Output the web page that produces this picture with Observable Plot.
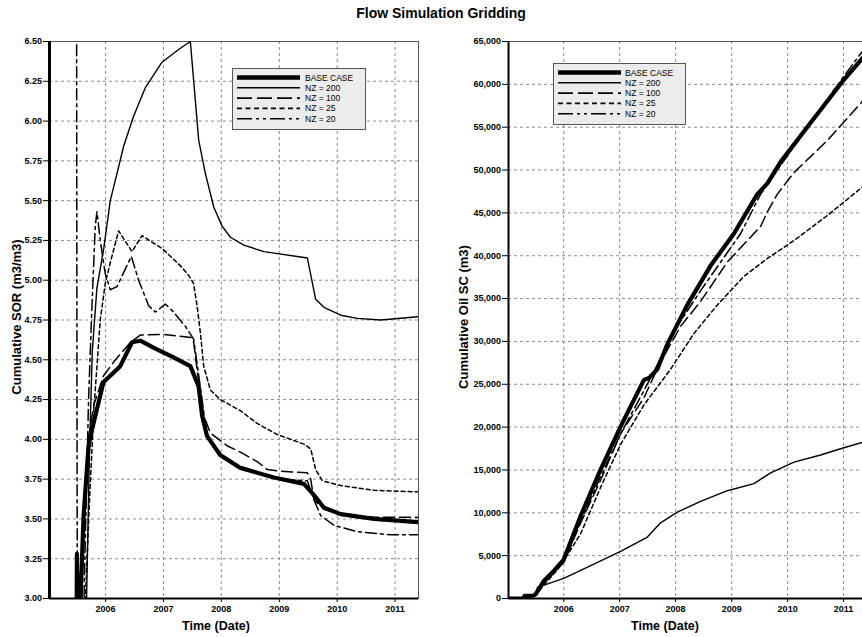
<!DOCTYPE html>
<html><head><meta charset="utf-8">
<script src="https://cdn.jsdelivr.net/npm/d3@7"></script>
<script src="https://cdn.jsdelivr.net/npm/@observablehq/plot@0.6"></script>
<style>
html,body{margin:0;padding:0;background:#fff;overflow:hidden;}
#wrap{position:relative;width:862px;height:637px;overflow:hidden;background:#fff;}
#wrap > svg{position:absolute;top:0;}
</style>
</head><body>
<div id="wrap"></div>
<script>
// ---------- DATA (decimal year, value) ----------
const seriesNames = ["BASE CASE", "NZ = 200", "NZ = 100", "NZ = 25", "NZ = 20"];
const yearTicks = [2006, 2007, 2008, 2009, 2010, 2011];
const sorTicks = [3.00, 3.25, 3.50, 3.75, 4.00, 4.25, 4.50, 4.75, 5.00, 5.25, 5.50, 5.75, 6.00, 6.25, 6.50];
const oilTicks = [0, 5000, 10000, 15000, 20000, 25000, 30000, 35000, 40000, 45000, 50000, 55000, 60000, 65000];

// Left chart: Cumulative SOR (m3/m3)
const sorBase = [[2005.500,2.9],[2005.505,3.28],[2005.512,2.9],[2005.525,3.15],[2005.540,2.9],[2005.562,2.95],[2005.620,3.52],[2005.706,3.96],[2005.765,4.06],[2005.851,4.19],[2005.965,4.36],[2006.081,4.40],[2006.254,4.46],[2006.457,4.61],[2006.600,4.62],[2006.860,4.57],[2007.149,4.52],[2007.465,4.46],[2007.609,4.33],[2007.668,4.15],[2007.754,4.02],[2007.984,3.90],[2008.330,3.82],[2008.907,3.76],[2009.426,3.72],[2009.599,3.65],[2009.772,3.57],[2010.061,3.53],[2010.637,3.50],[2011.388,3.48]];
const sorNz200 = [[2005.666,2.9],[2005.720,3.9],[2005.770,4.55],[2005.850,4.95],[2005.965,5.19],[2006.081,5.50],[2006.197,5.67],[2006.311,5.84],[2006.484,6.03],[2006.687,6.21],[2006.976,6.37],[2007.263,6.45],[2007.465,6.50],[2007.609,5.88],[2007.725,5.67],[2007.869,5.46],[2008.014,5.34],[2008.157,5.27],[2008.388,5.22],[2008.734,5.18],[2009.484,5.14],[2009.628,4.88],[2009.772,4.83],[2010.061,4.78],[2010.349,4.76],[2010.752,4.75],[2011.388,4.77]];
const sorNz100 = [[2005.580,2.9],[2005.640,3.6],[2005.700,4.0],[2005.800,4.22],[2005.965,4.40],[2006.170,4.50],[2006.430,4.61],[2006.600,4.655],[2007.000,4.66],[2007.495,4.64],[2007.522,4.61],[2007.609,4.36],[2007.696,4.15],[2007.811,4.04],[2008.100,3.96],[2008.330,3.92],[2008.619,3.86],[2008.792,3.81],[2009.022,3.80],[2009.484,3.79],[2009.542,3.75],[2009.599,3.62],[2009.772,3.56],[2010.061,3.53],[2010.637,3.51],[2011.388,3.51]];
const sorNz25 = [[2005.640,2.9],[2005.720,3.6],[2005.800,4.2],[2005.908,4.75],[2005.995,4.98],[2006.081,5.11],[2006.225,5.31],[2006.350,5.24],[2006.457,5.18],[2006.630,5.28],[2006.800,5.24],[2006.976,5.20],[2007.150,5.14],[2007.322,5.08],[2007.436,5.03],[2007.520,4.98],[2007.581,4.84],[2007.638,4.67],[2007.696,4.46],[2007.811,4.31],[2007.984,4.25],[2008.330,4.18],[2008.619,4.10],[2008.965,4.03],[2009.426,3.97],[2009.542,3.94],[2009.628,3.81],[2009.744,3.74],[2010.061,3.71],[2010.637,3.68],[2011.388,3.67]];
const sorNz20 = [[2005.500,6.48],[2005.506,4.25],[2005.512,2.9],[2005.620,2.9],[2005.706,4.25],[2005.765,4.84],[2005.822,5.34],[2005.851,5.43],[2005.908,5.25],[2005.995,5.04],[2006.081,4.94],[2006.197,4.96],[2006.341,5.07],[2006.445,5.15],[2006.571,5.00],[2006.744,4.84],[2006.860,4.80],[2007.033,4.85],[2007.176,4.80],[2007.379,4.71],[2007.522,4.63],[2007.668,4.25],[2007.754,4.02],[2007.927,3.92],[2008.330,3.83],[2009.022,3.75],[2009.484,3.74],[2009.599,3.62],[2009.715,3.52],[2009.945,3.46],[2010.349,3.42],[2010.926,3.40],[2011.388,3.40]];

// Right chart: Cumulative Oil SC (m3)
const oilBase = [[2005.013,0],[2005.280,0],[2005.300,300],[2005.460,330],[2005.500,520],[2005.648,2080],[2005.827,3250],[2006.000,4550],[2006.304,9670],[2006.661,15080],[2007.018,20090],[2007.434,25510],[2007.523,25720],[2007.673,26760],[2007.852,29680],[2008.209,34260],[2008.625,38850],[2009.041,42600],[2009.459,47190],[2009.638,48440],[2009.875,50950],[2010.411,55530],[2011.005,60530],[2011.410,63600]];
const oilNz200 = [[2005.013,0],[2005.280,0],[2005.300,300],[2005.460,330],[2005.500,600],[2005.530,1300],[2006.000,2350],[2006.482,3830],[2007.018,5500],[2007.495,7170],[2007.732,8830],[2008.030,10080],[2008.446,11330],[2008.923,12580],[2009.398,13410],[2009.696,14670],[2010.113,15920],[2010.589,16750],[2011.005,17590],[2011.410,18350]];
const oilNz100 = [[2005.013,0],[2005.280,0],[2005.300,300],[2005.460,330],[2005.500,500],[2005.600,1500],[2006.000,4200],[2006.304,8850],[2006.661,13830],[2007.018,19250],[2007.434,23430],[2007.732,27600],[2008.089,31770],[2008.446,34680],[2008.923,39270],[2009.280,41770],[2009.518,43440],[2009.638,45110],[2009.816,47190],[2010.113,49700],[2010.709,53440],[2011.339,58030],[2011.410,58500]];
const oilNz25 = [[2005.013,0],[2005.280,0],[2005.300,300],[2005.460,330],[2005.500,400],[2005.600,1200],[2005.946,3830],[2006.304,7580],[2006.661,13000],[2007.018,18000],[2007.434,22590],[2007.911,26760],[2008.327,30930],[2008.745,34260],[2009.220,37600],[2009.638,39680],[2010.113,41770],[2010.709,44690],[2011.339,48030],[2011.410,48400]];
const oilNz20 = [[2005.013,0],[2005.280,0],[2005.300,300],[2005.460,330],[2005.500,500],[2005.600,1600],[2006.000,4300],[2006.304,9000],[2006.661,14250],[2007.018,19250],[2007.434,24260],[2007.732,28010],[2008.030,31770],[2008.446,35930],[2008.804,39270],[2009.161,42600],[2009.518,47190],[2009.875,50530],[2010.411,55530],[2011.005,60950],[2011.339,63870],[2011.410,64500]];

// ---------- helpers ----------
const toDate = v => { const y = Math.floor(v); const a = Date.UTC(y,0,1), b = Date.UTC(y+1,0,1); return new Date(a + (v - y) * (b - a)); };
const rows = arr => arr.map(([t, v]) => ({date: toDate(t), value: v}));
const styles = [
  {w: 4.2, dash: null, lw: 4.5, ldash: null},
  {w: 1.4, dash: null, lw: 1.4, ldash: null},
  {w: 1.5, dash: "11,5", lw: 1.6, ldash: "15,5"},
  {w: 1.5, dash: "4,3", lw: 1.6, ldash: "5,3.5"},
  {w: 1.5, dash: "11,4,3,4", lw: 1.6, ldash: "15,4,3,4,3,4"}
];
const FONT = '"Liberation Sans", Arial, sans-serif';
const wrap = document.getElementById("wrap");

function makeChart(cfg) {
  const x0 = toDate(cfg.xDomain[0]);
  const lineMarks = cfg.series.map((s, i) => Plot.line(rows(s), {
    x: "date", y: "value", stroke: "black", strokeWidth: styles[i].w,
    strokeDasharray: styles[i].dash || undefined, clip: true, strokeLinejoin: "round"
  }));
  const years = yearTicks.map(y => toDate(y));
  const svg = Plot.plot({
    width: cfg.width, height: 637,
    marginTop: 41, marginBottom: 39, marginLeft: cfg.marginLeft, marginRight: cfg.marginRight,
    x: {type: "utc", domain: [x0, toDate(cfg.xDomain[1])]},
    y: {domain: cfg.yDomain},
    style: {fontFamily: FONT, fontSize: "9px", fontWeight: "bold", color: "black", background: "transparent"},
    marks: [
      Plot.gridY(cfg.yTicks, {stroke: "#8a8a8a", strokeOpacity: 1, strokeDasharray: "3,3"}),
      Plot.gridX(years, {stroke: "#8a8a8a", strokeOpacity: 1, strokeDasharray: "3,3"}),
      Plot.frame({stroke: "#555", strokeWidth: 1}),
      ...lineMarks,
      Plot.axisY(cfg.yTicks, {tickSize: 6, tickPadding: 1.5, tickFormat: cfg.yFormat, label: null, stroke: "black"}),
      Plot.axisX(years, {tickSize: 4, tickPadding: 3, tickFormat: d3.utcFormat("%Y"), label: null, stroke: "black"}),
      Plot.ruleX([x0], {stroke: "black", strokeWidth: cfg.axisW}),
      Plot.ruleY([cfg.yDomain[0]], {stroke: "black", strokeWidth: 2})
    ]
  });
  svg.style.left = cfg.left + "px";
  wrap.appendChild(svg);
}

makeChart({
  left: 0, width: 430, marginLeft: 49, marginRight: 12,
  xDomain: [2005.031, 2011.405], yDomain: [3, 6.5], yTicks: sorTicks,
  yFormat: d => d.toFixed(2), axisW: 3,
  series: [sorBase, sorNz200, sorNz100, sorNz25, sorNz20]
});
makeChart({
  left: 430, width: 440, marginLeft: 78, marginRight: 4,
  xDomain: [2005.0125, 2011.41], yDomain: [0, 65000], yTicks: oilTicks,
  yFormat: d3.format(","), axisW: 2,
  series: [oilBase, oilNz200, oilNz100, oilNz25, oilNz20]
});

// ---------- overlay: titles and legends ----------
const ov = d3.select(wrap).append("svg").attr("width", 862).attr("height", 637)
  .style("left", "0px").style("font-family", FONT);
ov.append("text").attr("x", 441).attr("y", 18).attr("text-anchor", "middle")
  .attr("font-size", 14).attr("font-weight", "bold").text("Flow Simulation Gridding");
ov.append("text").attr("x", 216).attr("y", 630).attr("text-anchor", "middle")
  .attr("font-size", 12.5).attr("font-weight", "bold").text("Time (Date)");
ov.append("text").attr("x", 665).attr("y", 630).attr("text-anchor", "middle")
  .attr("font-size", 12.5).attr("font-weight", "bold").text("Time (Date)");
ov.append("text").attr("transform", "translate(20.5,317) rotate(-90)").attr("text-anchor", "middle")
  .attr("font-size", 13).attr("font-weight", "bold").text("Cumulative SOR (m3/m3)");
ov.append("text").attr("transform", "translate(468,317) rotate(-90)").attr("text-anchor", "middle")
  .attr("font-size", 13).attr("font-weight", "bold").text("Cumulative Oil SC (m3)");

function legend(bx, by, bw, bh, lx1, lx2, tx, ry0, dy) {
  const g = ov.append("g");
  g.append("rect").attr("x", bx).attr("y", by).attr("width", bw).attr("height", bh)
    .attr("fill", "#ececec").attr("stroke", "#555").attr("stroke-width", 1);
  seriesNames.forEach((name, i) => {
    const y = ry0 + i * dy;
    g.append("line").attr("x1", lx1).attr("x2", lx2).attr("y1", y).attr("y2", y)
      .attr("stroke", "black").attr("stroke-width", styles[i].lw)
      .attr("stroke-dasharray", styles[i].ldash);
    g.append("text").attr("x", tx).attr("y", y + 3).attr("font-size", 8.5).text(name);
  });
}
legend(232.5, 68.5, 133, 61, 237, 300, 305, 77.5, 10.3);
legend(553.5, 63.5, 132, 61, 558, 621, 625, 72.5, 10.3);
</script>
</body></html>
